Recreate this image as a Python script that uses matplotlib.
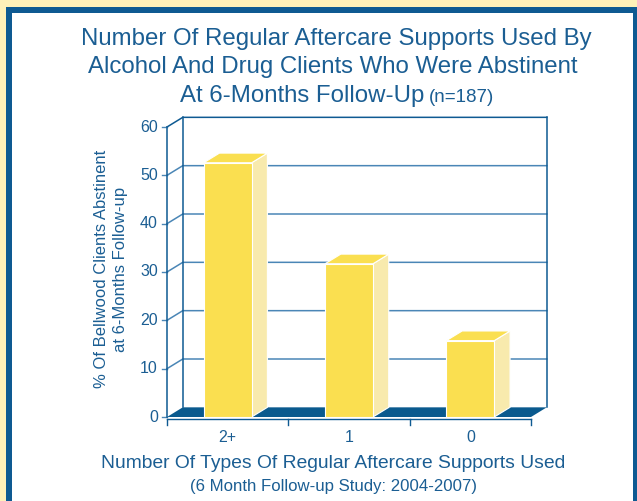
import matplotlib.pyplot as plt
from matplotlib.patches import Polygon, Rectangle

plt.rcParams['font.family'] = ['Liberation Sans', 'DejaVu Sans']

categories = ['2+', '1', '0']
values = [52.6, 31.7, 15.8]
yticks = [0, 10, 20, 30, 40, 50, 60]

TEXT_BLUE = '#1b5e93'
FRAME_BLUE = '#0e5a92'
GRID_BLUE = '#4a86b6'
FLOOR_BLUE = '#0a5a8e'
BAR_FRONT = '#fadf50'
BAR_SIDE = '#f8eaad'
BG_YELLOW = '#fff1b9'

DX = 0.13    # depth offset in category units
DY = 2.0     # depth offset in value units
BAR_W = 0.395

fig = plt.figure(figsize=(6.37, 5.01), dpi=100)
fig.patch.set_facecolor(BG_YELLOW)

# frame: blue border + white panel
W, H = 637.0, 501.0
fig.patches.append(Rectangle((6 / W, -0.1), 1.0, 1.1 - 7 / H, transform=fig.transFigure,
                             facecolor=FRAME_BLUE, edgecolor='none', zorder=-2))
fig.patches.append(Rectangle((12 / W, -0.1), (633 - 12) / W, 1.1 - 13 / H, transform=fig.transFigure,
                             facecolor='white', edgecolor='none', zorder=-1))

ax = fig.add_axes([167 / W, 1 - 417 / H, 364 / W, 290 / H])
ax.set_zorder(2)
ax.set_xlim(-0.5, 2.5)
ax.set_ylim(0, 60)
ax.patch.set_visible(False)
for s in ax.spines.values():
    s.set_visible(False)
ax.set_xticks([])
ax.set_yticks([])

x0, x1 = -0.5, len(categories) - 0.5

# gridlines: diagonal from front axis, then across back wall
for t in yticks[1:]:
    col = FRAME_BLUE if t == yticks[-1] else GRID_BLUE
    ax.plot([x0, x0 + DX, x1 + DX], [t, t + DY, t + DY], color=col, lw=1.1, clip_on=False, zorder=1)
for t in yticks:
    ax.plot([x0 - 0.04, x0], [t, t], color=GRID_BLUE, lw=1.0, clip_on=False, zorder=1)
    ax.text(x0 - 0.075, t, str(t), ha='right', va='center', fontsize=11.5, color=TEXT_BLUE)

# back wall edges
ax.plot([x0 + DX, x0 + DX], [DY, yticks[-1] + DY], color=FRAME_BLUE, lw=1.1, clip_on=False, zorder=1)
ax.plot([x1 + DX, x1 + DX], [DY, yticks[-1] + DY], color=FRAME_BLUE, lw=1.1, clip_on=False, zorder=1)
# front value axis
ax.plot([x0, x0], [0, yticks[-1]], color=FRAME_BLUE, lw=1.1, clip_on=False, zorder=2)

# floor
ax.add_patch(Polygon([(x0, 0), (x1, 0), (x1 + DX, DY), (x0 + DX, DY)], closed=True,
                     facecolor=FLOOR_BLUE, edgecolor='none', clip_on=False, zorder=2))
# category axis
ax.plot([x0, x1], [-0.5, -0.5], color=FRAME_BLUE, lw=1.0, clip_on=False, zorder=2)
for b in range(len(categories) + 1):
    ax.plot([x0 + b, x0 + b], [-0.5, -1.7], color=FRAME_BLUE, lw=1.0, clip_on=False, zorder=2)

# bars
for i, v in enumerate(values):
    l, r = i - BAR_W / 2, i + BAR_W / 2
    ax.add_patch(Polygon([(r, 0), (r + DX, DY), (r + DX, v + DY), (r, v)], closed=True,
                         facecolor=BAR_SIDE, edgecolor='white', lw=0.8, clip_on=False, zorder=3))
    ax.add_patch(Polygon([(l, v), (r, v), (r + DX, v + DY), (l + DX, v + DY)], closed=True,
                         facecolor=BAR_FRONT, edgecolor='white', lw=0.8, clip_on=False, zorder=3))
    ax.add_patch(Rectangle((l, 0), BAR_W, v, facecolor=BAR_FRONT, edgecolor='white', lw=0.8,
                           clip_on=False, zorder=4))
    ax.text(i, -4.2, categories[i], ha='center', va='center', fontsize=11.5, color=TEXT_BLUE)

# titles
fig.text(336 / W, 1 - 39 / H, 'Number Of Regular Aftercare Supports Used By',
         ha='center', va='center', fontsize=17.3, color=TEXT_BLUE)
fig.text(333 / W, 1 - 67 / H, 'Alcohol And Drug Clients Who Were Abstinent',
         ha='center', va='center', fontsize=17.3, color=TEXT_BLUE)
fig.text(424 / W, 1 - 102 / H, 'At 6-Months Follow-Up', ha='right', va='baseline',
         fontsize=17.3, color=TEXT_BLUE)
fig.text(429 / W, 1 - 102 / H, '(n=187)', ha='left', va='baseline', fontsize=13.5, color=TEXT_BLUE)

fig.text(101 / W, 1 - 269 / H, '% Of Bellwood Clients Abstinent', rotation=90,
         ha='center', va='center', fontsize=12, color=TEXT_BLUE)
fig.text(120 / W, 1 - 269 / H, 'at 6-Months Follow-up', rotation=90,
         ha='center', va='center', fontsize=12, color=TEXT_BLUE)

fig.text(333 / W, 1 - 464 / H, 'Number Of Types Of Regular Aftercare Supports Used',
         ha='center', va='center', fontsize=13.9, color=TEXT_BLUE)
fig.text(333 / W, 1 - 487 / H, '(6 Month Follow-up Study: 2004-2007)',
         ha='center', va='center', fontsize=12.1, color=TEXT_BLUE)

fig.savefig('out.png', dpi=100, facecolor=fig.get_facecolor())
